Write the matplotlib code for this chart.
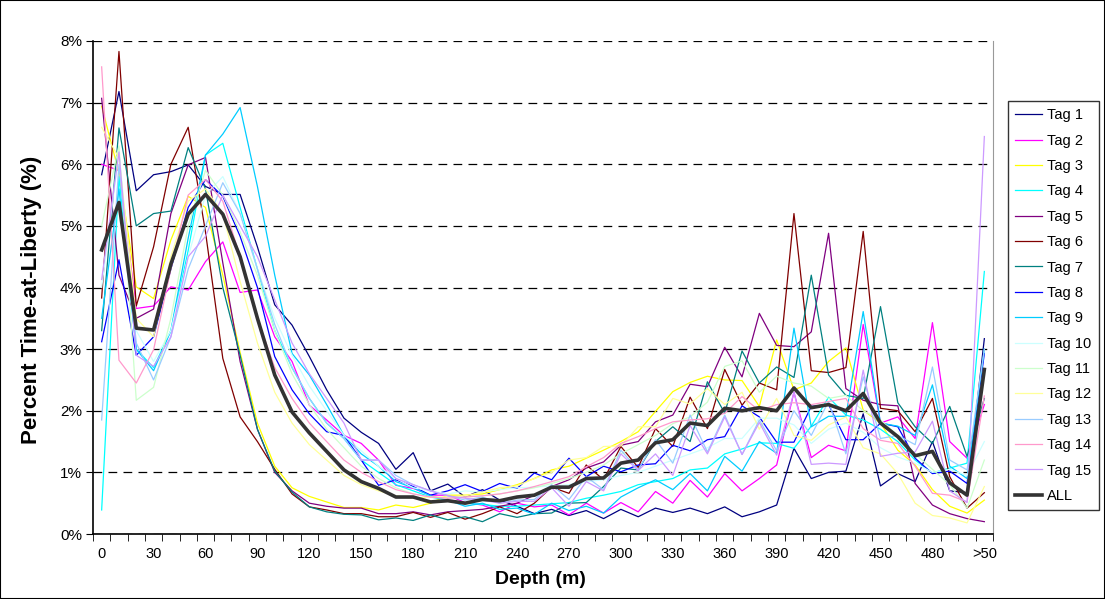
import numpy as np
import matplotlib
matplotlib.use("Agg")
import matplotlib.pyplot as plt
from matplotlib.patches import Rectangle

plt.rcParams['font.family'] = ['Liberation Sans', 'DejaVu Sans']

# depth bins: 0,10,...,500 and >500 (label cut to ">50" as in the original)
depth_labels = ['0', '30', '60', '90', '120', '150', '180', '210', '240', '270',
                '300', '330', '360', '390', '420', '450', '480', '>50']

tag1 = [5.83, 7.18, 5.57, 5.83, 5.88, 5.99, 5.64, 5.51, 5.51, 4.66, 3.72,
        3.39, 2.88, 2.34, 1.88, 1.65, 1.47, 1.05, 1.32, 0.70, 0.81,
        0.60, 0.72, 0.55, 0.45, 0.33, 0.40, 0.30, 0.38, 0.25, 0.40,
        0.28, 0.42, 0.35, 0.42, 0.33, 0.44, 0.28, 0.36, 0.47, 1.39,
        0.90, 1.00, 1.02, 1.95, 0.78, 0.98, 0.85, 1.50, 0.70, 0.67,
        3.17]
tag2 = [6.00, 5.90, 3.66, 3.70, 4.01, 3.96, 4.42, 4.74, 3.92, 3.96, 3.20,
        2.80, 2.09, 1.85, 1.60, 1.47, 1.20, 0.79, 0.74, 0.63, 0.63,
        0.51, 0.47, 0.36, 0.50, 0.44, 0.47, 0.31, 0.50, 0.34, 0.51,
        0.36, 0.69, 0.50, 0.87, 0.60, 0.98, 0.70, 0.90, 1.12, 2.30,
        1.24, 1.44, 1.35, 3.40, 1.80, 1.90, 1.55, 3.43, 1.50, 1.23,
        2.10]
tag3 = [6.94, 5.86, 4.01, 3.82, 4.77, 5.48, 5.30, 4.20, 2.95, 1.80, 1.10,
        0.75, 0.61, 0.52, 0.43, 0.43, 0.39, 0.47, 0.43, 0.50, 0.63,
        0.63, 0.65, 0.72, 0.80, 0.90, 1.04, 1.10, 1.23, 1.36, 1.50,
        1.66, 1.99, 2.31, 2.46, 2.56, 2.50, 2.49, 2.07, 3.15, 2.34,
        2.45, 2.80, 3.02, 2.01, 1.80, 1.36, 1.12, 0.72, 0.45, 0.34,
        0.55]
tag4 = [0.39, 5.80, 3.00, 2.70, 3.30, 4.60, 6.15, 6.34, 5.30, 4.30, 3.30,
        2.70, 2.20, 1.80, 1.55, 1.20, 1.00, 0.80, 0.70, 0.60, 0.55,
        0.50, 0.48, 0.45, 0.45, 0.47, 0.49, 0.51, 0.58, 0.63, 0.69,
        0.80, 0.85, 0.90, 1.04, 1.07, 1.30, 1.38, 1.48, 1.47, 1.39,
        1.75, 2.22, 1.93, 1.85, 1.70, 1.50, 1.20, 0.99, 1.07, 1.15,
        4.26]
tag5 = [7.07, 4.20, 3.50, 3.65, 5.20, 5.99, 6.11, 4.40, 2.80, 1.70, 1.00,
        0.70, 0.50, 0.45, 0.42, 0.42, 0.33, 0.33, 0.36, 0.31, 0.36,
        0.38, 0.40, 0.45, 0.50, 0.63, 0.77, 0.88, 1.07, 1.17, 1.44,
        1.50, 1.82, 1.93, 2.43, 2.39, 3.03, 2.55, 3.58, 3.06, 3.04,
        3.28, 4.88, 2.36, 2.17, 2.10, 2.08, 0.82, 0.47, 0.33, 0.25,
        0.20]
tag6 = [3.83, 7.83, 3.70, 4.66, 6.00, 6.60, 4.90, 2.85, 1.90, 1.50, 1.05,
        0.65, 0.44, 0.39, 0.33, 0.33, 0.28, 0.28, 0.35, 0.27, 0.35,
        0.24, 0.33, 0.44, 0.33, 0.50, 0.76, 0.66, 1.12, 0.88, 1.42,
        1.08, 1.71, 1.42, 2.22, 1.71, 2.67, 2.09, 2.45, 2.34, 5.20,
        2.65, 2.62, 2.70, 4.91, 2.04, 2.00, 1.66, 2.20, 0.93, 0.42,
        0.67]
tag7 = [3.30, 6.59, 5.00, 5.20, 5.24, 6.27, 5.60, 4.00, 2.90, 1.70, 1.02,
        0.68, 0.44, 0.36, 0.32, 0.31, 0.23, 0.26, 0.22, 0.31, 0.23,
        0.28, 0.20, 0.33, 0.27, 0.33, 0.34, 0.50, 0.51, 0.77, 1.07,
        1.04, 1.50, 1.74, 1.50, 2.47, 1.96, 2.97, 2.45, 2.71, 2.54,
        4.20, 2.58, 2.25, 2.20, 3.69, 2.13, 1.74, 1.47, 2.07, 1.26,
        2.20]
tag8 = [3.12, 4.45, 2.90, 3.20, 4.30, 5.30, 5.75, 5.48, 4.83, 4.00, 2.88,
        2.34, 1.95, 1.66, 1.60, 1.20, 0.79, 0.88, 0.77, 0.63, 0.70,
        0.80, 0.69, 0.82, 0.74, 0.99, 0.88, 1.23, 0.93, 1.10, 1.01,
        1.12, 1.14, 1.44, 1.35, 1.53, 1.58, 2.08, 1.90, 1.49, 1.49,
        2.07, 2.10, 1.53, 1.53, 1.80, 1.74, 1.23, 0.98, 1.02, 0.82,
        2.93]
tag9 = [3.50, 5.60, 3.00, 2.65, 3.30, 4.80, 6.15, 6.49, 6.92, 5.64, 4.20,
        2.93, 2.58, 2.10, 1.60, 1.30, 1.10, 0.85, 0.75, 0.62, 0.55,
        0.45, 0.50, 0.40, 0.42, 0.32, 0.50, 0.38, 0.45, 0.34, 0.60,
        0.75, 0.88, 0.72, 0.98, 0.70, 1.26, 1.02, 1.50, 1.31, 3.34,
        1.74, 1.91, 1.91, 3.61, 1.80, 1.75, 1.60, 2.42, 1.10, 0.90,
        3.00]
tag10 = [4.00, 6.20, 3.30, 2.80, 3.30, 4.50, 5.50, 5.80, 5.20, 4.30, 3.50,
         2.90, 2.40, 2.00, 1.60, 1.35, 1.10, 0.90, 0.75, 0.70, 0.65,
         0.70, 0.68, 0.72, 0.75, 0.76, 0.78, 0.80, 0.85, 0.88, 0.95,
         1.00, 1.10, 1.20, 1.30, 1.40, 1.55, 1.55, 1.88, 1.88, 1.77,
         1.47, 1.70, 1.80, 1.65, 1.40, 1.25, 1.15, 1.00, 1.05, 0.95,
         1.50]
tag11 = [5.00, 6.30, 2.17, 2.38, 3.50, 5.00, 5.90, 5.50, 4.90, 4.20, 3.30,
         2.60, 2.10, 1.70, 1.40, 1.10, 0.90, 0.75, 0.65, 0.60, 0.58,
         0.60, 0.62, 0.65, 0.70, 0.75, 0.82, 0.90, 1.00, 1.12, 1.30,
         1.45, 1.60, 1.79, 1.90, 2.14, 2.72, 2.81, 2.30, 2.56, 2.45,
         2.40, 2.20, 2.25, 2.00, 1.85, 1.60, 1.30, 1.05, 0.80, 0.42,
         1.20]
tag12 = [6.60, 6.10, 3.50, 3.20, 4.50, 5.40, 5.60, 5.20, 4.10, 3.10, 2.30,
         1.80, 1.45, 1.20, 0.95, 0.80, 0.70, 0.62, 0.58, 0.60, 0.60,
         0.62, 0.68, 0.75, 0.78, 0.90, 1.00, 1.20, 1.24, 1.42, 1.43,
         1.74, 1.74, 2.20, 2.11, 2.36, 2.10, 2.30, 1.70, 2.20, 1.60,
         1.52, 1.77, 1.90, 1.40, 1.30, 0.98, 0.50, 0.30, 0.26, 0.18,
         0.77]
tag13 = [1.85, 6.00, 3.10, 2.50, 3.20, 4.30, 5.00, 5.70, 5.20, 4.30, 3.40,
         2.70, 2.20, 1.80, 1.55, 1.20, 1.20, 0.95, 0.80, 0.70, 0.62,
         0.55, 0.60, 0.50, 0.55, 0.56, 0.80, 0.56, 0.93, 0.72, 1.36,
         1.04, 1.53, 1.15, 1.93, 1.33, 1.93, 1.29, 1.85, 1.35, 2.00,
         1.60, 2.15, 1.30, 2.55, 1.55, 1.60, 1.45, 2.71, 1.20, 1.04,
         3.00]
tag14 = [7.58, 2.82, 2.45, 2.99, 4.30, 5.50, 5.75, 5.40, 4.50, 3.50, 2.70,
         2.20, 1.80, 1.50, 1.20, 1.00, 0.85, 0.72, 0.65, 0.60, 0.58,
         0.60, 0.62, 0.65, 0.70, 0.77, 0.85, 0.93, 1.09, 1.24, 1.47,
         1.58, 1.71, 1.82, 1.85, 1.87, 1.96, 2.23, 2.00, 2.10, 2.13,
         2.10, 2.15, 2.20, 1.71, 1.52, 1.47, 1.10, 0.66, 0.63, 0.52,
         2.24]
tag15 = [4.13, 6.20, 2.90, 2.72, 3.20, 4.50, 4.83, 5.50, 5.00, 4.50, 3.80,
         3.10, 2.60, 2.20, 1.80, 1.20, 1.20, 0.90, 0.80, 0.70, 0.62,
         0.58, 0.55, 0.50, 0.53, 0.53, 0.75, 0.45, 0.85, 0.70, 1.30,
         1.03, 1.30, 0.95, 1.76, 1.30, 1.90, 1.29, 1.81, 1.28, 2.30,
         1.13, 1.15, 1.13, 2.66, 1.26, 1.31, 1.33, 1.83, 0.70, 0.51,
         6.45]
all_tags = [4.61, 5.38, 3.34, 3.31, 4.38, 5.19, 5.51, 5.19, 4.50, 3.50, 2.58,
            1.98, 1.64, 1.34, 1.04, 0.85, 0.74, 0.60, 0.60, 0.52, 0.54,
            0.50, 0.56, 0.54, 0.60, 0.63, 0.76, 0.76, 0.90, 0.91, 1.15,
            1.20, 1.48, 1.53, 1.80, 1.76, 2.04, 2.00, 2.05, 2.00, 2.37,
            2.05, 2.10, 2.00, 2.28, 1.80, 1.58, 1.27, 1.34, 0.83, 0.63,
            2.67]

tags = [tag1, tag2, tag3, tag4, tag5, tag6, tag7, tag8,
        tag9, tag10, tag11, tag12, tag13, tag14, tag15]
tag_names = ['Tag %d' % i for i in range(1, 16)]
tag_colors = ['#000080', '#FF00FF', '#FFFF00', '#00FFFF', '#800080',
              '#800000', '#008080', '#0000FF', '#00CCFF', '#CCFFFF',
              '#CCFFCC', '#FFFF99', '#99CCFF', '#FF99CC', '#CC99FF']

n = len(all_tags)
x = np.arange(n)

fig = plt.figure(figsize=(11.05, 5.99), dpi=100)
ax = fig.add_axes([93 / 1105, 65 / 599, 900 / 1105, 493 / 599])

for vals, name, c in zip(tags, tag_names, tag_colors):
    ax.plot(x, vals, color=c, lw=0.9, label=name)
ax.plot(x, all_tags, color='#333333', lw=2.6, label='ALL')

ax.set_xlim(-0.5, n - 0.5)
ax.set_ylim(0, 8)
ax.set_yticks(range(9))
ax.set_yticklabels(['%d%%' % v for v in range(9)], fontsize=11)
ax.set_xticks(np.arange(0, n, 3))
ax.set_xticklabels(depth_labels, fontsize=10.5)
ax.set_xticks(np.arange(n + 1) - 0.5, minor=True)
ax.tick_params(axis='x', which='major', length=0, pad=9)
ax.tick_params(axis='x', which='minor', length=5, direction='out')
ax.tick_params(axis='y', length=5, direction='out', pad=3)

ax.yaxis.grid(True, linestyle=(0, (7, 5)), color='black', lw=0.9)
ax.set_axisbelow(True)
ax.spines['top'].set_visible(False)
ax.spines['right'].set_color('#999999')
ax.spines['right'].set_linewidth(0.8)
ax.spines['left'].set_linewidth(1.2)
ax.spines['bottom'].set_linewidth(1.2)

fig.text(32 / 1105, 1 - 300 / 599, 'Percent Time-at-Liberty (%)', rotation=90,
         ha='center', va='center', fontsize=16, fontweight='bold')
fig.text(540 / 1105, 1 - 580 / 599, 'Depth (m)', ha='center', va='center',
         fontsize=14, fontweight='bold')

leg = fig.legend(loc='upper left', bbox_to_anchor=(1008 / 1105, 1 - 101 / 599),
                 frameon=True, fancybox=False, edgecolor='black', fontsize=10.5,
                 handlelength=1.8, labelspacing=0.78, borderpad=0.5,
                 handletextpad=0.4, borderaxespad=0)
leg.get_frame().set_linewidth(1.0)

fig.patches.append(Rectangle((0, 0), 1, 1, transform=fig.transFigure,
                             fill=False, edgecolor='black', lw=1.5))

fig.savefig('out.png', dpi=100)
